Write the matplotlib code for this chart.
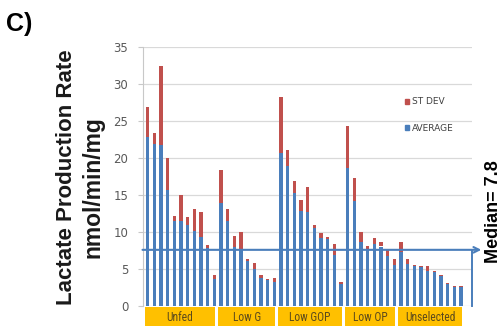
import matplotlib
matplotlib.use("Agg")
import matplotlib.pyplot as plt
import matplotlib.transforms as mtransforms
from matplotlib.patches import Rectangle, Patch
from matplotlib import font_manager
import numpy as np

# ---------------- data ----------------
groups = ["Unfed", "Low G", "Low GOP", "Low OP", "Unselected"]
group_sizes = [11, 9, 10, 8, 10]

average = [22.8, 21.9, 21.7, 15.6, 11.4, 11.4, 10.9, 10.1, 9.3, 7.8, 3.6,
           13.9, 11.4, 7.9, 7.5, 6.1, 4.9, 3.7, 3.5, 3.2,
           20.7, 18.9, 15.2, 12.8, 12.7, 10.5, 9.2, 9.0, 6.9, 2.9,
           18.6, 14.1, 8.6, 7.6, 8.3, 8.0, 6.7, 5.5,
           7.3, 5.6, 5.3, 5.2, 4.7, 4.6, 4.0, 2.9, 2.5, 2.5]
st_dev = [4.1, 1.4, 10.7, 4.4, 0.7, 3.5, 1.1, 3.0, 3.4, 0.4, 0.6,
          4.4, 1.7, 1.5, 2.5, 0.2, 0.9, 0.4, 0.1, 0.6,
          7.5, 2.1, 1.6, 1.5, 3.3, 0.4, 0.6, 0.3, 1.4, 0.3,
          5.7, 3.1, 1.4, 0.5, 0.8, 0.6, 0.8, 0.8,
          1.3, 0.7, 0.2, 0.2, 0.6, 0.1, 0.2, 0.2, 0.2, 0.2]
median_value = 7.8
median_line_y = 7.55

y_ticks = [0, 5, 10, 15, 20, 25, 30, 35]

# ---------------- style ----------------
BLUE = "#4a7ebb"
RED = "#c0504d"
ORANGE = "#ffc000"
GRID = "#d9d9d9"

avail = {f.name for f in font_manager.fontManager.ttflist}
bold_family = "Liberation Sans" if "Liberation Sans" in avail else "DejaVu Sans"
narrow_family = None
for cand in ["Liberation Sans Narrow", "DejaVu Sans Condensed", "Roboto Condensed"]:
    if cand in avail:
        narrow_family = cand
        break

fig = plt.figure(figsize=(5.03, 3.26), dpi=100)
W, H = 503, 326
ax_l, ax_r, ax_t, ax_b = 142.5, 472, 46.7, 305.7
ax = fig.add_axes([ax_l / W, 1 - ax_b / H, (ax_r - ax_l) / W, (ax_b - ax_t) / H])

n = len(average)
x = np.arange(n)
bar_w = 0.5
ax.bar(x, average, width=bar_w, color=BLUE, zorder=3, linewidth=0)
ax.bar(x, st_dev, width=bar_w, bottom=average, color=RED, zorder=3, linewidth=0)

ax.set_xlim(-0.75, n + 0.65)
ax.set_ylim(0, 35)
ax.set_yticks(y_ticks)
ax.yaxis.grid(True, color=GRID, linewidth=0.9, zorder=0)
ax.set_axisbelow(True)
ax.set_xticks([])
for s in ["top", "right", "bottom"]:
    ax.spines[s].set_visible(False)
ax.spines["left"].set_color("#c8c8c8")
ax.spines["left"].set_linewidth(0.8)
ax.tick_params(axis="y", length=3.3, width=0.8, color="#c8c8c8", pad=7,
               labelsize=8.5, labelcolor="#595959")

# median arrow and vertical line
ax.plot([n + 0.6, n + 0.6], [0, median_line_y], color=BLUE, lw=1.4, zorder=4,
        clip_on=False)
ax.annotate("", xy=(n + 2.05, median_line_y), xytext=(-0.75, median_line_y),
            xycoords="data", textcoords="data",
            arrowprops=dict(arrowstyle="->", color=BLUE, lw=1.5,
                            mutation_scale=10, shrinkA=0, shrinkB=0),
            annotation_clip=False, zorder=5)

# group label boxes
trans = mtransforms.blended_transform_factory(ax.transData, ax.transAxes)
frac_top = -1.6 / (ax_b - ax_t)
frac_bot = -(H - ax_b) / (ax_b - ax_t)
start = 0
for g, sz in zip(groups, group_sizes):
    x0 = start - 0.4
    x1 = start + sz - 1 + 0.15
    ax.add_patch(Rectangle((x0, frac_bot), x1 - x0, frac_top - frac_bot,
                           transform=trans, color=ORANGE, clip_on=False,
                           zorder=2, linewidth=0))
    kw = dict(fontsize=8.3, color="#5c4a1c")
    if narrow_family:
        kw["family"] = narrow_family
    ax.text((x0 + x1) / 2, (frac_top + frac_bot) / 2 - 0.002, g, transform=trans,
            ha="center", va="center", clip_on=False, **kw)
    start += sz

# legend
handles = [Patch(color=RED, label="ST DEV"), Patch(color=BLUE, label="AVERAGE")]
leg = fig.legend(handles=handles, loc="upper left",
                 bbox_to_anchor=(405 / W, 1 - 97.5 / H), frameon=False,
                 fontsize=6.5, handlelength=0.45, handleheight=0.45,
                 handletextpad=0.35, labelspacing=1.9, borderpad=0,
                 borderaxespad=0)
for t in leg.get_texts():
    t.set_color("#404040")

# text
fig.text(6 / W, 1 - 24 / H, "C)", fontsize=18, fontweight="bold",
         family=bold_family, ha="left", va="center", color="black")
fig.text(66.5 / W, 1 - 177 / H, "Lactate Production Rate", rotation=90,
         fontsize=16, fontweight="bold", family=bold_family,
         ha="center", va="center", color="#1a1a1a")
fig.text(93 / W, 1 - 187 / H, "nmol/min/mg", rotation=90,
         fontsize=16.5, fontweight="bold", family=bold_family,
         ha="center", va="center", color="#1a1a1a")
fig.text(493 / W, 1 - 212 / H, "Median= " + str(median_value), rotation=90,
         fontsize=13, fontweight="bold", family=bold_family,
         ha="center", va="center", color="black")

fig.savefig("out.png", dpi=100)
